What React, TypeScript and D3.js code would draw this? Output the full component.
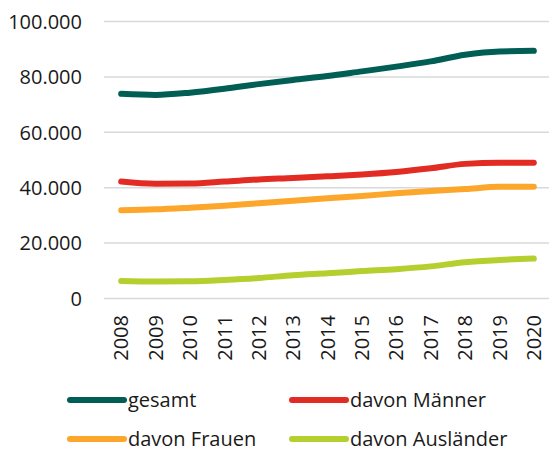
import React from "react";
import * as d3 from "d3";

const years = ["2008","2009","2010","2011","2012","2013","2014","2015","2016","2017","2018","2019","2020"];
const gesamt = [73900,73500,74300,75700,77400,78900,80300,82000,83700,85600,88000,89200,89400];
const maenner = [42200,41400,41500,42200,43000,43500,44100,44800,45700,47000,48600,49000,49000];
const frauen = [31900,32200,32800,33500,34400,35300,36200,37000,38000,38800,39500,40300,40300];
const auslaender = [6300,6100,6200,6700,7400,8400,9100,9900,10600,11600,13100,13900,14400];
const yTicks = [0,20000,40000,60000,80000,100000];

const seriesNames = ["gesamt","davon Männer","davon Frauen","davon Ausländer"];
const seriesColors = ["#005e55","#e22c23","#fca62b","#b4cf2e"];
const seriesData = [gesamt, maenner, frauen, auslaender];

const W = 549, H = 452;
const plot = { left: 104, right: 551, top: 21.5, bottom: 298.5 };
const font = "'Open Sans', sans-serif";
const fs = 20;

export default function App() {
  const x = d3.scaleBand<string>().domain(years).range([plot.left, plot.right]);
  const y = d3.scaleLinear().domain([0, 100000]).range([plot.bottom, plot.top]);
  const fmt = (v: number) => d3.format(",")(v).replace(/,/g, ".");
  const line = d3.line<number>()
    .x((_, i) => (x(years[i]) as number) + x.bandwidth() / 2)
    .y((d) => y(d))
    .curve(d3.curveMonotoneX);

  const legendPos = [
    { x: 70, y: 400 },
    { x: 292, y: 400 },
    { x: 70, y: 439 },
    { x: 292, y: 439 },
  ];

  return (
    <svg width={W} height={H} style={{ position: "absolute", left: 0, top: 0, background: "#fff" }} fontFamily={font}>
      {yTicks.map((t) => (
        <g key={t}>
          <line x1={plot.left} x2={plot.right} y1={y(t)} y2={y(t)} stroke="#d9d9d9" strokeWidth={1.5} />
          <text x={82} y={y(t)} dy="0.36em" textAnchor="end" fontSize={fs} fill="#1a1a1a">{fmt(t)}</text>
        </g>
      ))}
      {years.map((yr) => {
        const cx = (x(yr) as number) + x.bandwidth() / 2;
        return (
          <text key={yr} transform={`translate(${cx},${315}) rotate(-90)`} textAnchor="end" dy="0.36em" fontSize={fs} fill="#1a1a1a">{yr}</text>
        );
      })}
      {seriesData.map((d, i) => (
        <path key={i} d={line(d) || ""} fill="none" stroke={seriesColors[i]} strokeWidth={6} strokeLinecap="round" strokeLinejoin="round" />
      ))}
      {seriesNames.map((n, i) => (
        <g key={n}>
          <line x1={legendPos[i].x} x2={legendPos[i].x + 54} y1={legendPos[i].y} y2={legendPos[i].y} stroke={seriesColors[i]} strokeWidth={6} strokeLinecap="round" />
          <text x={legendPos[i].x + 58} y={legendPos[i].y} dy="0.36em" fontSize={fs} fill="#1a1a1a">{n}</text>
        </g>
      ))}
    </svg>
  );
}
